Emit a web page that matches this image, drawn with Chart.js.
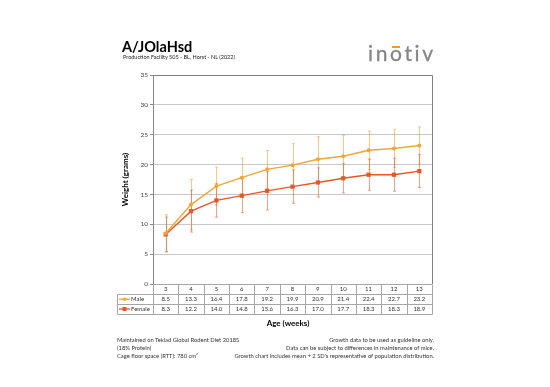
<!DOCTYPE html>
<html><head><meta charset="utf-8">
<script src="https://cdn.jsdelivr.net/npm/chart.js@4/dist/chart.umd.min.js"></script>
<style>
html,body{margin:0;padding:0;background:#fff;}
#wrap{position:relative;width:550px;height:387px;overflow:hidden;font-family:Lato,"Liberation Sans",sans-serif;}
canvas{position:absolute;left:0;top:0;}
.t{position:absolute;white-space:nowrap;color:#000;}
#logo{left:368px;top:40px;font-size:21px;line-height:25.2px;color:#858585;letter-spacing:2.6px;-webkit-text-stroke:0.3px #858585;}
#logo .o{position:relative;}
#logo .bar{position:absolute;left:2.2px;top:6px;width:7.5px;height:2.2px;background:#f39a2b;}
</style></head><body>
<div id="wrap">
<canvas id="c" width="550" height="387"></canvas>
<div class="t" style="left:122px;top:38px;font-size:14.5px;font-weight:bold;">A/JOlaHsd</div>
<div class="t" style="left:123px;top:54px;font-size:5.5px;color:#222;">Production Facility 505 - BL, Horst - NL (2022)</div>
<div class="t" id="logo">in<span class="o">o<span class="bar"></span></span>tiv</div>
<div class="t" style="left:117px;top:336px;font-size:5.8px;line-height:8px;color:#333;">Maintained on Teklad Global Rodent Diet 2018S<br>(18% Protein)<br>Cage floor space (RTT): 780 cm²</div>
<div class="t" style="right:116px;top:336px;font-size:5.8px;line-height:8px;color:#333;text-align:right;">Growth data to be used as guideline only.<br>Data can be subject to differences in maintenance of mice.<br>Growth chart includes mean + 2 SD's representative of population distribution.</div>
</div>
<script>
const weeks = ['3','4','5','6','7','8','9','10','11','12','13'];
const maleMean = [8.5,13.3,16.4,17.8,19.2,19.9,20.9,21.4,22.4,22.7,23.2];
const femaleMean = [8.3,12.2,14.0,14.8,15.6,16.3,17.0,17.7,18.3,18.3,18.9];
const male2SD = [3.1,4.2,3.2,3.3,3.15,3.6,3.75,3.5,3.2,3.2,3.1];
const female2SD = [2.9,3.5,2.8,2.85,3.2,2.8,2.45,2.45,2.6,2.75,2.75];
const seriesNames = ['Male','Female'];
const yMin = 0, yMax = 35, yStep = 5;

const MALE = '#f4a534', FEMALE = '#e8572a';
const sds = [male2SD, female2SD];
const errCols = ['rgba(244,165,52,0.6)','rgba(232,87,42,0.55)'];

const errorBars = {
  id:'errorBars',
  beforeDatasetsDraw(chart){
    const ctx = chart.ctx, xs = chart.scales.x, ys = chart.scales.y;
    chart.data.datasets.forEach((ds,i)=>{
      ctx.save();
      ctx.strokeStyle = errCols[i]; ctx.lineWidth = 1;
      ds.data.forEach((v,j)=>{
        const x = Math.round(xs.getPixelForValue(j))+0.5;
        const t = ys.getPixelForValue(v+sds[i][j]);
        const b = ys.getPixelForValue(v-sds[i][j]);
        ctx.beginPath();
        ctx.moveTo(x,t); ctx.lineTo(x,b);
        ctx.moveTo(x-1.5,t); ctx.lineTo(x+1.5,t);
        ctx.moveTo(x-1.5,b); ctx.lineTo(x+1.5,b);
        ctx.stroke();
      });
      ctx.restore();
    });
  }
};

const frame = {
  id:'frame',
  afterDraw(chart){
    const ctx = chart.ctx, a = chart.chartArea, xs = chart.scales.x;
    ctx.save();
    ctx.strokeStyle = '#7f7f7f'; ctx.lineWidth = 1;
    ctx.beginPath();
    ctx.moveTo(a.left, Math.round(a.top)+0.5); ctx.lineTo(Math.round(a.right)+0.5, Math.round(a.top)+0.5);
    ctx.lineTo(Math.round(a.right)+0.5, Math.round(a.bottom));
    ctx.stroke();
    const rowH = 9.8;
    const y0 = Math.round(a.bottom)+0.5;
    const colW = (a.right - a.left)/weeks.length;
    const legL = 117.5;
    ctx.strokeStyle = '#a6a6a6';
    ctx.beginPath();
    ctx.moveTo(a.left, y0); ctx.lineTo(a.right, y0);
    for (let r=1;r<=3;r++){
      const y = Math.round(y0 + r*rowH)+0.5;
      ctx.moveTo(legL, y); ctx.lineTo(Math.round(a.right)+0.5, y);
    }
    for (let c=0;c<=weeks.length;c++){
      const x = Math.round(a.left + c*colW)+0.5;
      ctx.moveTo(x, y0); ctx.lineTo(x, Math.round(y0+3*rowH)+0.5);
    }
    ctx.moveTo(legL, Math.round(y0+rowH)+0.5); ctx.lineTo(legL, Math.round(y0+3*rowH)+0.5);
    ctx.stroke();
    ctx.fillStyle = '#333';
    ctx.font = '6px Lato';
    ctx.textAlign = 'center'; ctx.textBaseline = 'middle';
    weeks.forEach((w,j)=>{
      const x = xs.getPixelForValue(j);
      ctx.fillText(w, x, y0 + rowH*0.5);
      ctx.fillText(maleMean[j].toFixed(1), x, y0 + rowH*1.5);
      ctx.fillText(femaleMean[j].toFixed(1), x, y0 + rowH*2.5);
    });
    const cols = [MALE, FEMALE];
    seriesNames.forEach((n,i)=>{
      const cy = y0 + rowH*(1.5+i);
      ctx.strokeStyle = cols[i]; ctx.lineWidth = 1.3;
      ctx.beginPath(); ctx.moveTo(119, cy); ctx.lineTo(130, cy); ctx.stroke();
      ctx.fillStyle = cols[i];
      if (i===0){ ctx.beginPath(); ctx.arc(124.5, cy, 1.8, 0, Math.PI*2); ctx.fill(); }
      else { ctx.fillRect(122.5, cy-2, 4, 4); }
      ctx.fillStyle = '#333'; ctx.textAlign = 'left';
      ctx.fillText(n, 131, cy);
    });
    ctx.font = 'bold 8px Lato'; ctx.fillStyle = '#000'; ctx.textAlign = 'center';
    ctx.fillText('Age (weeks)', 288, y0 + 3*rowH + 9.5);
    ctx.restore();
  }
};

new Chart(document.getElementById('c'), {
  type:'line',
  data:{
    labels: weeks,
    datasets:[
      {label:seriesNames[0], data:maleMean, borderColor:MALE, backgroundColor:MALE, borderWidth:1.4,
       pointStyle:'circle', pointRadius:2, pointBorderWidth:0, tension:0},
      {label:seriesNames[1], data:femaleMean, borderColor:FEMALE, backgroundColor:FEMALE, borderWidth:1.4,
       pointStyle:'rect', pointRadius:3, pointBorderWidth:0, tension:0}
    ]
  },
  options:{
    responsive:false, animation:false,
    layout:{padding:{left:121, top:75, right:118, bottom:103}},
    plugins:{legend:{display:false}, tooltip:{enabled:false}},
    scales:{
      x:{offset:true, grid:{display:false}, border:{display:false}, ticks:{display:false},
         afterFit(s){ s.height = 0; }},
      y:{min:yMin, max:yMax,
         afterBuildTicks(s){ s.ticks = []; for(let v=yMin; v<=yMax; v+=yStep) s.ticks.push({value:v}); },
         afterFit(s){ s.width = 32; },
         grid:{color:'#c8c8c8', tickLength:3, tickColor:'#888'},
         border:{color:'#888'},
         ticks:{font:{size:6.5, family:'Lato'}, color:'#444', padding:2},
         title:{display:true, text:'Weight (grams)', font:{size:8, weight:'bold', family:'Lato'}, color:'#000', padding:0}}
    }
  },
  plugins:[errorBars, frame]
});
</script>
</body></html>
